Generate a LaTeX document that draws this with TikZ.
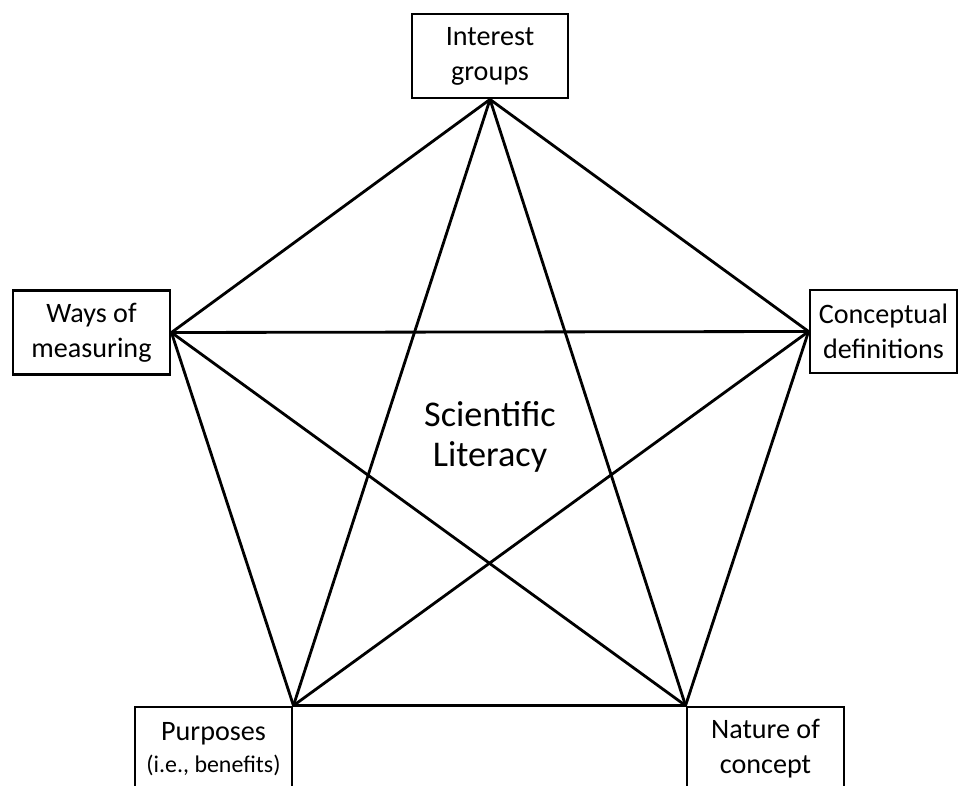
\documentclass[tikz,border=0pt]{standalone}
\usepackage{fontspec}
\setmainfont{Carlito}
\begin{document}
\begin{tikzpicture}[x=0.01cm, y=-0.01cm,
    corner/.style={draw, line width=0.8pt, fill=white, inner sep=0pt, align=center,
      minimum width=1.57cm, minimum height=0.84cm, font=\fontsize{8}{10}\selectfont},
    link/.style={line width=0.8pt}]
    % Page frame
    \useasboundingbox (0,0) rectangle (958,786);
    \clip (0,0) rectangle (958,786);

    % The five corners
    \node[corner, minimum width=1.56cm] (groups) at (490,56) {Interest\\groups};
    \node[corner] (measuring) at (91.5,332.5) {Ways of\\measuring};
    \node[corner, minimum width=1.47cm, minimum height=0.83cm] (definitions) at (883.5,331.5) {Conceptual\\definitions};
    \node[corner] (purposes) at (213.5,749) {Purposes\\[-1pt]{\fontsize{6.8}{8}\selectfont (i.e., benefits)}};
    \node[corner] (nature) at (765.5,749) {Nature of\\concept};

    % Centre label
    \node[align=center, font=\fontsize{10.3}{11.5}\selectfont] (literacy) at (490,437) {Scientific\\Literacy};

    % Outer pentagon
    \draw[link] (groups.south) -- (definitions.west);
    \draw[link] (definitions.west) -- (nature.north west);
    \draw[link] (nature.north west) -- (purposes.north east);
    \draw[link] (purposes.north east) -- (measuring.east);
    \draw[link] (measuring.east) -- (groups.south);

    % Inner star
    \draw[link] (groups.south) -- (purposes.north east);
    \draw[link] (groups.south) -- (nature.north west);
    \draw[link] (measuring.east) -- (definitions.west);
    \draw[link] (measuring.east) -- (nature.north west);
    \draw[link] (definitions.west) -- (purposes.north east);
\end{tikzpicture}
\end{document}
